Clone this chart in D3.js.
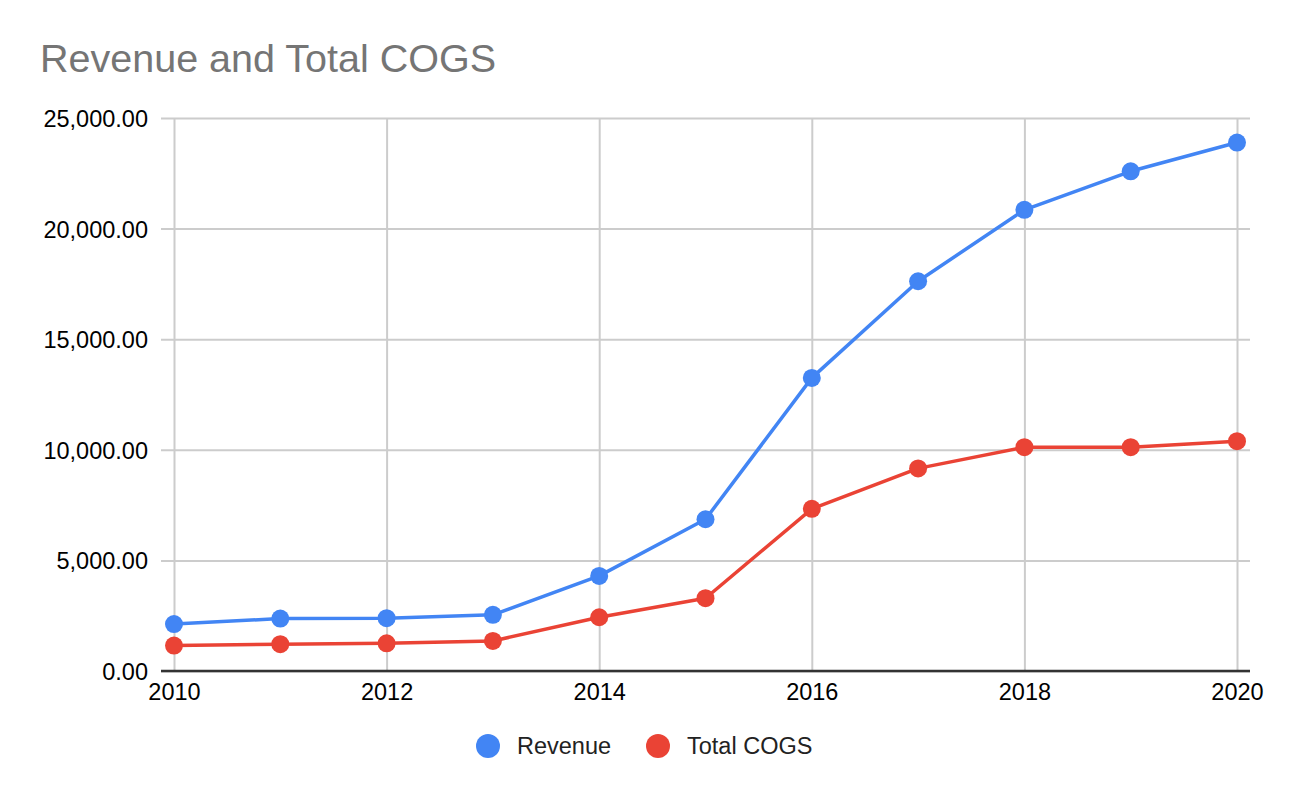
<!DOCTYPE html>
<html>
<head>
<meta charset="utf-8">
<script src="https://cdn.jsdelivr.net/npm/d3@7"></script>
<style>
  body { margin: 0; background: #fff; }
  text { font-family: Arial, "Liberation Sans", sans-serif; }
</style>
</head>
<body>
<div id="chart"></div>
<script>
// data
const years = [2010, 2011, 2012, 2013, 2014, 2015, 2016, 2017, 2018, 2019, 2020];
const revenue = [2120, 2370, 2390, 2540, 4300, 6860, 13250, 17620, 20850, 22590, 23890];
const totalCogs = [1150, 1210, 1250, 1360, 2430, 3290, 7330, 9160, 10120, 10120, 10390];
const yTicks = [0, 5000, 10000, 15000, 20000, 25000];
const xTicks = [2010, 2012, 2014, 2016, 2018, 2020];

const width = 1290, height = 798;
const svg = d3.select("#chart")
    .append("svg")
    .attr("width", width)
    .attr("height", height);

// plot area
const x = d3.scaleLinear().domain([2010, 2020]).range([174, 1237]);
const y = d3.scaleLinear().domain([0, 25000]).range([671, 118]);

// title
svg.append("text")
    .attr("x", 40)
    .attr("y", 72)
    .attr("font-size", 39.5)
    .attr("fill", "#757575")
    .text("Revenue and Total COGS");

// horizontal gridlines + y labels
const yAxis = d3.axisLeft(y)
    .tickValues(yTicks)
    .tickSize(-(1250 - 161))
    .tickPadding(13)
    .tickFormat(d3.format(",.2f"));

svg.append("g")
    .attr("transform", "translate(161,0)")
    .call(yAxis)
    .call(g => g.select(".domain").remove())
    .call(g => g.selectAll(".tick line").attr("stroke", "#cccccc").attr("stroke-width", 2))
    .call(g => g.selectAll(".tick text")
        .attr("font-size", 23.5)
        .attr("fill", "#000")
        .attr("dy", "0.36em"));

// vertical gridlines + x labels
const xAxis = d3.axisBottom(x)
    .tickValues(xTicks)
    .tickSize(-(671 - 118))
    .tickPadding(12)
    .tickFormat(d3.format("d"));

svg.append("g")
    .attr("transform", "translate(0,671)")
    .call(xAxis)
    .call(g => g.select(".domain").remove())
    .call(g => g.selectAll(".tick line").attr("stroke", "#cccccc").attr("stroke-width", 2))
    .call(g => g.selectAll(".tick text")
        .attr("font-size", 23.5)
        .attr("fill", "#000")
        .attr("dy", "0.71em"));

// baseline
svg.append("line")
    .attr("x1", 161).attr("x2", 1250)
    .attr("y1", y(0)).attr("y2", y(0))
    .attr("stroke", "#333333")
    .attr("stroke-width", 2.5);

const series = [
    { name: "Revenue", values: revenue, color: "#4285f4" },
    { name: "Total COGS", values: totalCogs, color: "#ea4335" }
];

const line = d3.line()
    .x((d, i) => x(years[i]))
    .y(d => y(d));

series.forEach(s => {
    svg.append("path")
        .datum(s.values)
        .attr("d", line)
        .attr("fill", "none")
        .attr("stroke", s.color)
        .attr("stroke-width", 3.5)
        .attr("stroke-linejoin", "round");

    svg.selectAll(null)
        .data(s.values)
        .enter().append("circle")
        .attr("cx", (d, i) => x(years[i]))
        .attr("cy", d => y(d))
        .attr("r", 9)
        .attr("fill", s.color);
});

// legend
const legendPos = [{ cx: 488, tx: 517 }, { cx: 658, tx: 687 }];
series.forEach((s, i) => {
    svg.append("circle")
        .attr("cx", legendPos[i].cx)
        .attr("cy", 746)
        .attr("r", 12)
        .attr("fill", s.color);
    svg.append("text")
        .attr("x", legendPos[i].tx)
        .attr("y", 754)
        .attr("font-size", 23.5)
        .attr("fill", "#222")
        .text(s.name);
});
</script>
</body>
</html>
